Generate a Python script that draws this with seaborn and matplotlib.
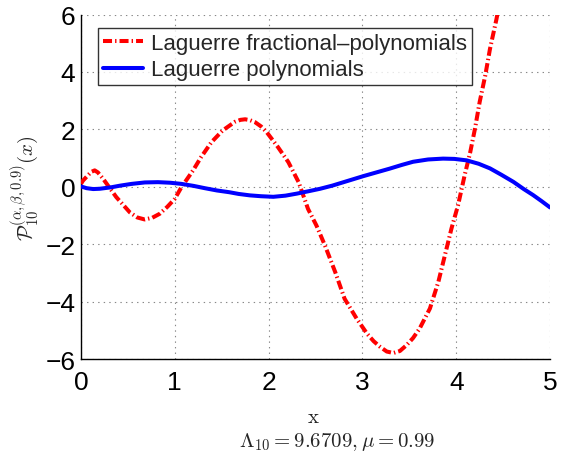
import matplotlib
matplotlib.use("Agg")
import matplotlib.pyplot as plt
from matplotlib.ticker import MultipleLocator
import numpy as np
import pandas as pd
import seaborn as sns

# Fractional Laguerre curve (degree 10)
frac_x = [0.0, 0.02, 0.08, 0.11, 0.146, 0.18, 0.235, 0.376, 0.52, 0.60, 0.68, 0.76, 0.84,
          0.92, 1.0, 1.07, 1.195, 1.28, 1.39, 1.51, 1.64, 1.70, 1.75, 1.80, 1.855, 1.92,
          1.98, 2.10, 2.21, 2.32, 2.42, 2.51, 2.60, 2.71, 2.81, 2.94, 3.05, 3.12, 3.19,
          3.26, 3.33, 3.40, 3.47, 3.54, 3.61, 3.72, 3.81, 3.88, 3.95, 4.02, 4.09, 4.15,
          4.20, 4.25, 4.31, 4.36, 4.43, 4.45]
frac_y = [0.10, 0.21, 0.42, 0.52, 0.57, 0.50, 0.28, -0.36, -0.89, -1.07, -1.14, -1.08, -0.94,
          -0.70, -0.42, -0.02, 0.57, 1.03, 1.55, 1.96, 2.26, 2.33, 2.35, 2.32, 2.25, 2.10,
          1.90, 1.38, 0.86, 0.16, -0.77, -1.35, -2.04, -2.97, -3.90, -4.60, -5.12, -5.38, -5.58,
          -5.74, -5.79, -5.72, -5.52, -5.27, -4.94, -4.24, -3.31, -2.38, -1.45, -0.64, 0.40, 1.21,
          2.02, 2.95, 3.88, 4.80, 5.85, 6.20]

# Classical Laguerre curve (degree 10)
poly_x = [0.0, 0.06, 0.13, 0.20, 0.32, 0.42, 0.54, 0.68, 0.82, 0.95, 1.07, 1.20, 1.32,
          1.45, 1.58, 1.68, 1.80, 1.92, 2.05, 2.18, 2.30, 2.42, 2.55, 2.68, 2.80, 2.90,
          3.01, 3.15, 3.29, 3.42, 3.54, 3.70, 3.86, 3.98, 4.11, 4.24, 4.36, 4.48, 4.61,
          4.72, 4.82, 4.91, 5.0]
poly_y = [0.01, -0.05, -0.08, -0.07, -0.02, 0.04, 0.10, 0.15, 0.16, 0.14, 0.10, 0.03, -0.05,
          -0.13, -0.19, -0.25, -0.30, -0.33, -0.35, -0.31, -0.24, -0.16, -0.07, 0.04, 0.16, 0.26,
          0.37, 0.50, 0.63, 0.76, 0.87, 0.95, 0.98, 0.97, 0.92, 0.80, 0.64, 0.42, 0.17,
          -0.08, -0.29, -0.50, -0.72]

series_labels = ["Laguerre fractional\u2013polynomials", "Laguerre polynomials"]
x_ticks = [0, 1, 2, 3, 4, 5]
y_ticks = [-6, -4, -2, 0, 2, 4, 6]

sns.set_style("white")
plt.rcParams["font.family"] = ["Liberation Sans", "DejaVu Sans"]
plt.rcParams["mathtext.fontset"] = "cm"
plt.rcParams["lines.scale_dashes"] = False

fig = plt.figure(figsize=(5.61, 4.60), dpi=100)
ax = fig.add_axes([81 / 561, 1 - 360 / 460, 469 / 561, 344.5 / 460])

frac_df = pd.DataFrame({"x": frac_x, "y": frac_y})
poly_df = pd.DataFrame({"x": poly_x, "y": poly_y})

sns.lineplot(data=frac_df, x="x", y="y", ax=ax, sort=False, estimator=None,
             color="#ff0000", linewidth=2.9, linestyle=(0, (6.5, 2.2, 1.0, 2.2)),
             label=series_labels[0], zorder=3)
sns.lineplot(data=poly_df, x="x", y="y", ax=ax, sort=False, estimator=None,
             color="#0000ff", linewidth=2.9, label=series_labels[1], zorder=4)

ax.set_xlim(0, 5)
ax.set_ylim(-6, 6)
ax.set_xticks(x_ticks)
ax.set_yticks(y_ticks)
ax.set_xticklabels([str(t) for t in x_ticks])
ax.set_yticklabels([str(t).replace("-", "\u2212") for t in y_ticks])
ax.yaxis.set_minor_locator(MultipleLocator(0.2))

ax.tick_params(axis="both", which="major", direction="in", length=5, width=0.8,
               labelsize=19, colors="black", pad=4)
ax.tick_params(axis="x", which="major", pad=8)
ax.tick_params(axis="y", which="minor", direction="in", length=2.5, width=0.6,
               color="#555555")

ax.grid(True, which="major", linestyle=(0, (1, 3)), color="#888888", linewidth=0.8)
for side in ("top", "right"):
    ax.spines[side].set_visible(False)
for side in ("left", "bottom"):
    ax.spines[side].set_color("black")
    ax.spines[side].set_linewidth(1.0)

ax.set_xlabel("")
ax.set_ylabel("")
fig.text(313 / 561, 1 - 418 / 460, r"$\mathrm{x}$", fontsize=15,
         ha="center", va="center")
fig.text(337 / 561, 1 - 442 / 460, r"$\Lambda_{10}=9.6709, \mu=0.99$",
         fontsize=15, ha="center", va="center")
fig.text(25 / 561, 1 - 188 / 460, r"$\mathcal{P}_{10}^{(\alpha,\beta,0.9)}(x)$",
         fontsize=15, rotation=90, ha="center", va="center")

leg = ax.legend(loc="upper left", bbox_to_anchor=(0.0356, 0.961), borderaxespad=0,
                frameon=True, fancybox=False, fontsize=16, handlelength=1.8,
                handletextpad=0.4, borderpad=0.22, labelspacing=0.25)
leg.get_frame().set_edgecolor("black")
leg.get_frame().set_linewidth(1.0)

fig.savefig("out.png", dpi=100)
